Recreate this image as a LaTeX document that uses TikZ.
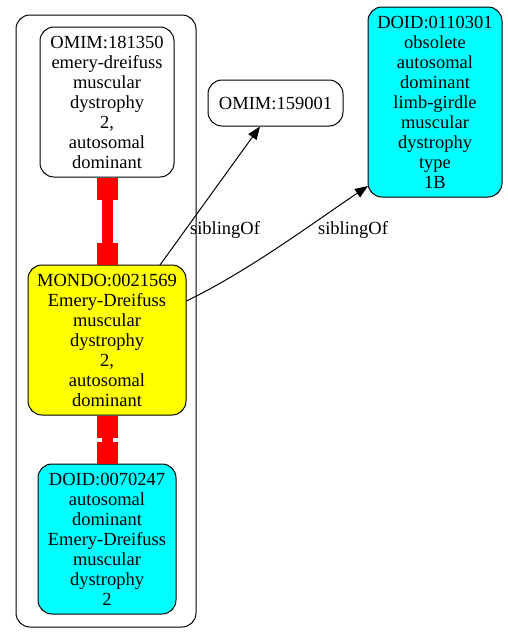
\documentclass[tikz,border=0pt]{standalone}
\usepackage{fontspec}
\setmainfont{Liberation Serif}
\usetikzlibrary{arrows.meta}

\definecolor{termcyan}{RGB}{0,255,255}
\definecolor{termyellow}{RGB}{255,255,0}
\definecolor{termred}{RGB}{255,0,0}

\tikzset{
	term/.style={draw, line width=1pt, rounded corners=14pt, align=center, inner sep=0pt,
		font=\fontsize{18.5}{20}\selectfont},
	equiv/.style={draw=termred, line width=11pt,
		{Square[length=22pt 0,width=21pt 0]}-{Square[length=22pt 0,width=21pt 0]}},
	sibling/.style={draw, line width=1pt, -{Triangle[length=13pt 0,width=10pt 0]}},
	rel/.style={font=\fontsize{18.5}{20}\selectfont}
}

\begin{document}
\begin{tikzpicture}[x=1pt, y=-1pt]
\useasboundingbox (0,0) rectangle (507,643);
% cluster
\draw[line width=1pt, rounded corners=14pt] (16,15) rectangle (196,627);

\node[term, minimum width=134pt, minimum height=150pt] (omim1) at (107,102)
	{OMIM:181350\\emery-dreifuss\\muscular\\dystrophy\\2,\\autosomal\\dominant};
\node[term, fill=termyellow, minimum width=158pt, minimum height=150pt] (mondo) at (107,340)
	{MONDO:0021569\\Emery-Dreifuss\\muscular\\dystrophy\\2,\\autosomal\\dominant};
\node[term, fill=termcyan, minimum width=138pt, minimum height=150pt] (doid1) at (107,539)
	{DOID:0070247\\autosomal\\dominant\\Emery-Dreifuss\\muscular\\dystrophy\\2};
\node[term, minimum width=135pt, minimum height=46pt] (omim2) at (275.5,103)
	{OMIM:159001};
\node[term, fill=termcyan, minimum width=134pt, minimum height=190pt] (doid2) at (435,102)
	{DOID:0110301\\obsolete\\autosomal\\dominant\\limb-girdle\\muscular\\dystrophy\\type\\1B};

% equivalences
\draw[equiv] (omim1.south) -- (mondo.north);
\draw[equiv] (mondo.south) -- (doid1.north);

% siblings
\draw[sibling] (160,265) coordinate (s1) -- (260,126.5) coordinate (t1);
\node[rel] (l1) at (225,230) {siblingOf};
\coordinate (s2) at (186.5,301);
\coordinate (t2) at (368,186);
\draw[sibling] (s2) .. controls (250,270) and (310,225) .. (t2);
\node[rel] (l2) at (353,230) {siblingOf};
\end{tikzpicture}
\end{document}
